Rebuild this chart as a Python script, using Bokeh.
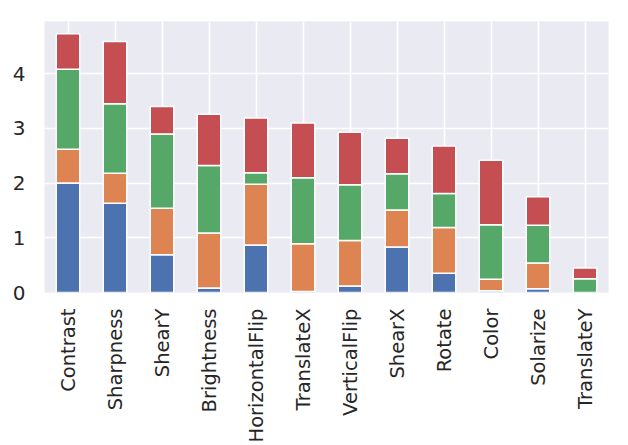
from bokeh.plotting import figure
from bokeh.models import ColumnDataSource, Range1d, FixedTicker, FactorRange
from bokeh.embed import file_html
from bokeh.resources import INLINE
import math

categories = ["Contrast", "Sharpness", "ShearY", "Brightness", "HorizontalFlip",
              "TranslateX", "VerticalFlip", "ShearX", "Rotate", "Color",
              "Solarize", "TranslateY"]
s1 = [2.00, 1.63, 0.69, 0.08, 0.87, 0.02, 0.12, 0.83, 0.35, 0.03, 0.07, 0.00]
s2 = [0.62, 0.55, 0.85, 1.01, 1.11, 0.87, 0.83, 0.68, 0.84, 0.21, 0.47, 0.00]
s3 = [1.46, 1.27, 1.36, 1.23, 0.21, 1.21, 1.02, 0.66, 0.62, 1.00, 0.69, 0.25]
s4 = [0.65, 1.14, 0.50, 0.94, 1.00, 1.00, 0.96, 0.65, 0.87, 1.18, 0.52, 0.20]
y_ticks = [0, 1, 2, 3, 4]

series = ["s1", "s2", "s3", "s4"]
colors = ["#4C72B0", "#DD8452", "#55A868", "#C44E52"]

source = ColumnDataSource(dict(cat=categories, s1=s1, s2=s2, s3=s3, s4=s4))

p = figure(frame_width=564, frame_height=271, output_backend="svg",
           toolbar_location=None,
           x_range=FactorRange(*categories, range_padding=0),
           y_range=Range1d(0, 4.955),
           min_border_left=44, min_border_top=21, min_border_right=20,
           min_border_bottom=0)
p.background_fill_color = "#EAEAF2"
p.border_fill_color = "white"
p.outline_line_color = None

p.vbar_stack(series, x="cat", width=0.5, source=source, color=colors,
             line_color="white", line_width=1.5)

for ax in (p.xaxis[0], p.yaxis[0]):
    ax.axis_line_color = None
    ax.major_tick_line_color = None
    ax.minor_tick_line_color = None
    ax.major_label_text_font = "DejaVu Sans"
    ax.major_label_text_color = "#262626"

p.xaxis.major_label_text_font_size = "19.5px"
p.yaxis.major_label_text_font_size = "20px"
p.xaxis.major_label_orientation = math.pi / 2
p.xaxis.major_label_standoff = 10
p.yaxis.major_label_standoff = 13
p.yaxis.ticker = FixedTicker(ticks=y_ticks)

p.xgrid.grid_line_color = "white"
p.xgrid.grid_line_width = 1.6
p.ygrid.grid_line_color = "white"
p.ygrid.grid_line_width = 1.6

open("out.html", "w").write(file_html(p, INLINE))
